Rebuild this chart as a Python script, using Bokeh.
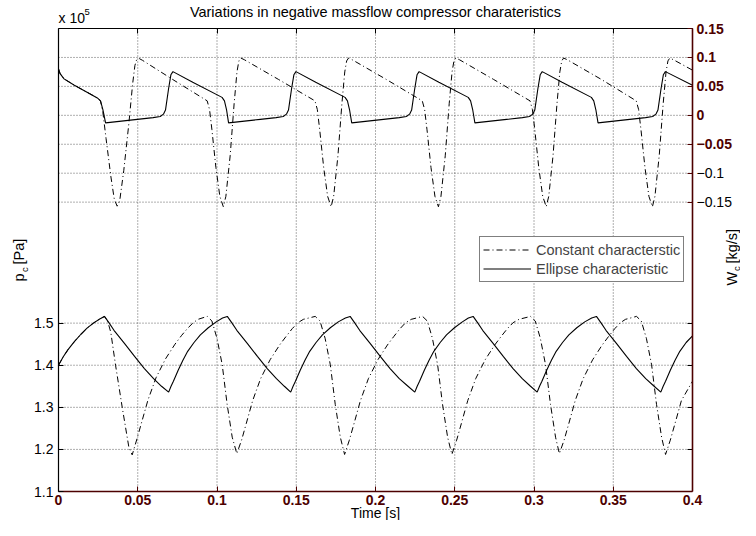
import math
from bokeh.plotting import figure
from bokeh.models import (Range1d, LinearAxis, FixedTicker, Label, Legend,
                          LegendItem, CustomJSTickFormatter)
from bokeh.embed import file_html
from bokeh.resources import INLINE

# ---------------- data ----------------
# compressor pressure, units of 1e5 Pa  -- ellipse characteristic (solid)
t_ell_p = [0.0, 0.003, 0.006, 0.010, 0.014, 0.018, 0.022, 0.026, 0.029,
           0.032, 0.035, 0.0416, 0.048, 0.0542, 0.060, 0.065, 0.0695,
           0.071, 0.0725, 0.0755, 0.0785, 0.0815, 0.0855, 0.0895, 0.0945, 0.0995, 0.1035, 0.1065,
           0.1095, 0.1125, 0.1191, 0.1255, 0.1317, 0.1375, 0.1425, 0.1465,
           0.148, 0.1495, 0.1525, 0.1555, 0.1585, 0.1625, 0.1665, 0.1715, 0.1765, 0.181, 0.184,
           0.187, 0.190, 0.1966, 0.203, 0.2092, 0.215, 0.2205, 0.2248,
           0.2263, 0.2278, 0.2308, 0.2338, 0.2368, 0.2408, 0.2448, 0.2498, 0.2548, 0.2586, 0.2616,
           0.2646, 0.2676, 0.2742, 0.2806, 0.2868, 0.2926, 0.2978, 0.302,
           0.3035, 0.305, 0.308, 0.311, 0.314, 0.318, 0.322, 0.327, 0.332, 0.3364, 0.3394,
           0.3424, 0.3454, 0.352, 0.3584, 0.3646, 0.3705, 0.3758, 0.380,
           0.3815, 0.383, 0.386, 0.389, 0.392, 0.396, 0.400]
p_ell = [1.400, 1.420, 1.437, 1.456, 1.473, 1.488, 1.500, 1.510, 1.516,
         1.500, 1.483, 1.452, 1.421, 1.392, 1.368, 1.350, 1.336,
         1.350, 1.362, 1.388, 1.412, 1.433, 1.454, 1.472, 1.489, 1.503, 1.512, 1.516,
         1.500, 1.483, 1.452, 1.421, 1.392, 1.368, 1.350, 1.336,
         1.350, 1.362, 1.388, 1.412, 1.433, 1.454, 1.472, 1.489, 1.503, 1.512, 1.516,
         1.500, 1.483, 1.452, 1.421, 1.392, 1.368, 1.350, 1.336,
         1.350, 1.362, 1.388, 1.412, 1.433, 1.454, 1.472, 1.489, 1.503, 1.512, 1.516,
         1.500, 1.483, 1.452, 1.421, 1.392, 1.368, 1.350, 1.336,
         1.350, 1.362, 1.388, 1.412, 1.433, 1.454, 1.472, 1.489, 1.503, 1.512, 1.516,
         1.500, 1.483, 1.452, 1.421, 1.392, 1.368, 1.350, 1.336,
         1.350, 1.362, 1.388, 1.412, 1.433, 1.454, 1.470]

# compressor pressure -- constant characteristic (dash-dot)
t_con_p = [0.0, 0.003, 0.006, 0.010, 0.014, 0.018, 0.022, 0.026, 0.029,
           0.031, 0.033, 0.036, 0.0402, 0.0444, 0.0465,
           0.0495, 0.0525, 0.0565, 0.0615, 0.0675, 0.0735, 0.0775, 0.0815, 0.0850, 0.0880, 0.0938,
           0.0968, 0.1000, 0.1033, 0.1064, 0.1096, 0.1125,
           0.1155, 0.1185, 0.1225, 0.1275, 0.1335, 0.1395, 0.1435, 0.1475, 0.1510, 0.1545, 0.1620,
           0.1650, 0.1682, 0.1715, 0.1746, 0.1778, 0.1805,
           0.1835, 0.1865, 0.1905, 0.1955, 0.2015, 0.2075, 0.2115, 0.2155, 0.2190, 0.2225, 0.2297,
           0.2327, 0.2359, 0.2392, 0.2423, 0.2455, 0.2482,
           0.2512, 0.2542, 0.2582, 0.2632, 0.2692, 0.2752, 0.2792, 0.2832, 0.2868, 0.2905, 0.2978,
           0.3008, 0.3040, 0.3073, 0.3104, 0.3136, 0.3160,
           0.3190, 0.3220, 0.3260, 0.3310, 0.3370, 0.3430, 0.3470, 0.3510, 0.3545, 0.3577, 0.3647,
           0.3677, 0.3709, 0.3742, 0.3773, 0.3805, 0.3830,
           0.3860, 0.3890, 0.3930, 0.4000]
p_con = [1.400, 1.420, 1.437, 1.456, 1.473, 1.488, 1.500, 1.510, 1.516,
         1.505, 1.478, 1.400, 1.300, 1.205, 1.187,
         1.225, 1.265, 1.318, 1.370, 1.415, 1.450, 1.470, 1.488, 1.501, 1.509, 1.516,
         1.505, 1.464, 1.401, 1.307, 1.229, 1.190,
         1.222, 1.262, 1.316, 1.368, 1.413, 1.448, 1.468, 1.487, 1.501, 1.509, 1.516,
         1.505, 1.464, 1.401, 1.307, 1.229, 1.188,
         1.222, 1.262, 1.316, 1.368, 1.413, 1.448, 1.468, 1.487, 1.501, 1.509, 1.516,
         1.505, 1.464, 1.401, 1.307, 1.229, 1.188,
         1.222, 1.262, 1.316, 1.368, 1.413, 1.448, 1.468, 1.487, 1.501, 1.509, 1.516,
         1.505, 1.464, 1.401, 1.307, 1.229, 1.190,
         1.222, 1.262, 1.316, 1.368, 1.413, 1.448, 1.468, 1.487, 1.501, 1.509, 1.516,
         1.505, 1.464, 1.401, 1.307, 1.229, 1.188,
         1.222, 1.262, 1.316, 1.362]

# compressor massflow, kg/s -- ellipse characteristic (solid)
t_ell_w = [0.0, 0.001, 0.0035, 0.010, 0.018, 0.0245, 0.0265, 0.0280,
           0.0297, 0.0397, 0.0497, 0.0597, 0.0642, 0.0662, 0.0675, 0.0694, 0.0709, 0.0722,
           0.0847, 0.1032, 0.1047, 0.1060,
           0.1073, 0.1173, 0.1273, 0.1373, 0.1418, 0.1438, 0.1451, 0.1470, 0.1485, 0.1498,
           0.1623, 0.1808, 0.1823, 0.1836,
           0.1850, 0.1950, 0.2050, 0.2150, 0.2195, 0.2215, 0.2228, 0.2247, 0.2262, 0.2275,
           0.2400, 0.2585, 0.2600, 0.2613,
           0.2627, 0.2727, 0.2827, 0.2927, 0.2972, 0.2992, 0.3005, 0.3024, 0.3039, 0.3052,
           0.3177, 0.3362, 0.3377, 0.3390,
           0.3404, 0.3504, 0.3604, 0.3704, 0.3749, 0.3769, 0.3782, 0.3801, 0.3816, 0.3829,
           0.4000]
w_ell = [0.080, 0.072, 0.063, 0.052, 0.040, 0.030, 0.025, 0.010,
         -0.013, -0.010, -0.007, -0.004, -0.002, 0.002, 0.009, 0.045, 0.070, 0.0755,
         0.057, 0.031, 0.025, 0.010,
         -0.013, -0.010, -0.007, -0.004, -0.002, 0.002, 0.009, 0.045, 0.070, 0.0755,
         0.057, 0.031, 0.025, 0.010,
         -0.013, -0.010, -0.007, -0.004, -0.002, 0.002, 0.009, 0.045, 0.070, 0.0755,
         0.057, 0.031, 0.025, 0.010,
         -0.013, -0.010, -0.007, -0.004, -0.002, 0.002, 0.009, 0.045, 0.070, 0.0755,
         0.057, 0.031, 0.025, 0.010,
         -0.013, -0.010, -0.007, -0.004, -0.002, 0.002, 0.009, 0.045, 0.070, 0.0755,
         0.052]

# compressor massflow -- constant characteristic (dash-dot)
t_con_w = [0.0, 0.001, 0.0035, 0.010, 0.018, 0.0245, 0.0265,
           0.0280, 0.0300, 0.0330, 0.0352, 0.0370, 0.0386, 0.0412, 0.0444, 0.0468, 0.0482,
           0.0494, 0.0510, 0.0530, 0.0720,
           0.0938, 0.0953, 0.0968, 0.0993, 0.1018, 0.1040, 0.1056, 0.1083, 0.1108, 0.1126,
           0.1138, 0.1150, 0.1173, 0.1388,
           0.1618, 0.1633, 0.1648, 0.1673, 0.1698, 0.1720, 0.1736, 0.1763, 0.1788, 0.1806,
           0.1818, 0.1830, 0.1853, 0.2068,
           0.2295, 0.2310, 0.2325, 0.2350, 0.2375, 0.2397, 0.2413, 0.2440, 0.2465, 0.2483,
           0.2495, 0.2507, 0.2530, 0.2745,
           0.2975, 0.2990, 0.3005, 0.3030, 0.3055, 0.3077, 0.3093, 0.3120, 0.3145, 0.3163,
           0.3175, 0.3187, 0.3210, 0.3425,
           0.3645, 0.3660, 0.3675, 0.3700, 0.3725, 0.3747, 0.3763, 0.3790, 0.3815, 0.3833,
           0.3845, 0.3857, 0.3880, 0.4000]
w_con = [0.080, 0.072, 0.063, 0.052, 0.040, 0.030, 0.025,
         0.005, -0.040, -0.105, -0.145, -0.157, -0.148, -0.095, -0.014, 0.055, 0.086,
         0.097, 0.098, 0.095, 0.062,
         0.025, 0.010, -0.025, -0.090, -0.140, -0.158, -0.140, -0.070, 0.020, 0.075,
         0.094, 0.099, 0.096, 0.062,
         0.025, 0.010, -0.025, -0.090, -0.140, -0.158, -0.140, -0.070, 0.020, 0.075,
         0.094, 0.099, 0.096, 0.062,
         0.025, 0.010, -0.025, -0.090, -0.140, -0.158, -0.140, -0.070, 0.020, 0.075,
         0.094, 0.099, 0.096, 0.062,
         0.025, 0.010, -0.025, -0.090, -0.140, -0.158, -0.140, -0.070, 0.020, 0.075,
         0.094, 0.099, 0.096, 0.062,
         0.025, 0.010, -0.025, -0.090, -0.140, -0.158, -0.140, -0.070, 0.020, 0.075,
         0.094, 0.099, 0.096, 0.078]

x_ticks = [0.0, 0.05, 0.1, 0.15, 0.2, 0.25, 0.3, 0.35, 0.4]
p_ticks = [1.1, 1.2, 1.3, 1.4, 1.5]
w_ticks_red = [-0.05, 0.0, 0.05, 0.1, 0.15]
w_ticks_black = [-0.15, -0.1]
x_grid = [0.05, 0.1, 0.15, 0.2, 0.25, 0.3, 0.35]
p_grid = [1.2, 1.3, 1.4, 1.5]
w_grid = [-0.15, -0.1, -0.05, 0.0, 0.05, 0.1]

X_LO, X_HI = 0.0, 0.4          # time axis limits
P_LO, P_HI = 1.1, 2.2          # left axis limits (x 1e5 Pa)
W_LO, W_HI = -0.65, 0.15       # right axis limits (kg/s)

title_text = "Variations in negative massflow compressor charateristics"
legend_labels = ["Constant characterstic", "Ellipse characteristic"]

# ---------------- layout (pixels) ----------------
CW, CH = 740, 520
FL, FR, FT, FB = 58, 692, 28, 491   # plot box edges on the canvas

DARKRED = "#4d0000"
FONT = "Liberation Sans"
FS = "14px"       # tick labels
FT_TXT = "14.5px"  # titles, legend

ux = (X_HI - X_LO) / (FR - FL)
up = (P_HI - P_LO) / (FB - FT)
uw = (W_HI - W_LO) / (FB - FT)

p = figure(width=CW, height=CH, output_backend="svg", toolbar_location=None,
           title=None, tools="", x_axis_location=None, y_axis_location=None,
           x_range=Range1d(X_LO - FL * ux, X_HI + (CW - FR) * ux),
           y_range=Range1d(P_LO - (CH - FB) * up, P_HI + FT * up),
           min_border=0, min_border_left=0, min_border_right=0,
           min_border_top=0, min_border_bottom=0)
p.extra_y_ranges = {"w": Range1d(W_LO - (CH - FB) * uw, W_HI + FT * uw)}
p.background_fill_color = "white"
p.border_fill_color = "white"
p.outline_line_color = None
p.grid.visible = False

fmt = CustomJSTickFormatter(code="return String(tick).replace('-', '\u2212');")
nofmt = CustomJSTickFormatter(code="return '';")

# ---- dotted grid lines, drawn at the tick values ----
GRID = dict(line_color="#444444", line_dash="1 2", line_width=1, line_alpha=0.85)
p.segment(x0=x_grid, y0=[P_LO] * len(x_grid), x1=x_grid, y1=[P_HI] * len(x_grid), **GRID)
p.segment(x0=[X_LO] * len(p_grid), y0=p_grid, x1=[X_HI] * len(p_grid), y1=p_grid, **GRID)
p.segment(x0=[X_LO] * len(w_grid), y0=w_grid, x1=[X_HI] * len(w_grid), y1=w_grid,
          y_range_name="w", **GRID)

# ---- axes ----
xa = LinearAxis(fixed_location=P_LO, bounds=(X_LO, X_HI), ticker=FixedTicker(ticks=x_ticks),
                formatter=fmt, axis_line_color=DARKRED, axis_line_width=1.6,
                major_tick_line_color=DARKRED, major_tick_in=5, major_tick_out=0,
                minor_tick_line_color=None, major_label_text_color=DARKRED,
                major_label_text_font=FONT, major_label_text_font_style="bold",
                major_label_text_font_size=FS, major_label_standoff=3)
p.add_layout(xa, "below")

ta = LinearAxis(fixed_location=P_HI, bounds=(X_LO, X_HI), ticker=FixedTicker(ticks=x_ticks),
                formatter=nofmt, axis_line_color="black", axis_line_width=1,
                major_tick_line_color="black", major_tick_in=5, major_tick_out=0,
                minor_tick_line_color=None, major_label_text_font_size="1px")
p.add_layout(ta, "above")

ya = LinearAxis(fixed_location=X_LO, bounds=(P_LO, P_HI), ticker=FixedTicker(ticks=p_ticks),
                formatter=fmt, axis_line_color="black", axis_line_width=1.2,
                major_tick_line_color="black", major_tick_in=5, major_tick_out=0,
                minor_tick_line_color=None, major_label_text_color="black",
                major_label_text_font=FONT, major_label_text_font_size=FS,
                major_label_standoff=5)
p.add_layout(ya, "left")

# left-axis ticks repeated on the right edge of the box
ya2 = LinearAxis(fixed_location=X_HI, bounds=(P_LO, P_HI), ticker=FixedTicker(ticks=p_grid),
                 formatter=nofmt, axis_line_color=None, major_tick_line_color="black",
                 major_tick_in=5, major_tick_out=0, minor_tick_line_color=None,
                 major_label_text_font_size="1px")
p.add_layout(ya2, "right")

ra = LinearAxis(y_range_name="w", fixed_location=X_HI, bounds=(W_LO, W_HI),
                ticker=FixedTicker(ticks=w_ticks_red), formatter=fmt,
                axis_line_color=DARKRED, axis_line_width=1.6,
                major_tick_line_color=DARKRED, major_tick_in=5, major_tick_out=0,
                minor_tick_line_color=None, major_label_text_color=DARKRED,
                major_label_text_font=FONT, major_label_text_font_style="bold",
                major_label_text_font_size=FS, major_label_standoff=4)
p.add_layout(ra, "right")

rb = LinearAxis(y_range_name="w", fixed_location=X_HI, bounds=(W_LO, W_HI),
                ticker=FixedTicker(ticks=w_ticks_black), formatter=fmt,
                axis_line_color=None, major_tick_line_color=DARKRED,
                major_tick_in=5, major_tick_out=0, minor_tick_line_color=None,
                major_label_text_color="black", major_label_text_font=FONT,
                major_label_text_font_size=FS, major_label_standoff=4)
p.add_layout(rb, "right")

# ---- data lines ----
DASHDOT = "6 3 1 3"
r_con_w = p.line(t_con_w, w_con, y_range_name="w", line_color="black",
                 line_width=1, line_dash=DASHDOT)
r_ell_w = p.line(t_ell_w, w_ell, y_range_name="w", line_color="black", line_width=1.1)
r_con_p = p.line(t_con_p, p_con, line_color="black", line_width=1, line_dash=DASHDOT)
r_ell_p = p.line(t_ell_p, p_ell, line_color="black", line_width=1.1)

legend = Legend(items=[LegendItem(label=legend_labels[0], renderers=[r_con_w]),
                       LegendItem(label=legend_labels[1], renderers=[r_ell_w])],
                location=(479, CH - 282), padding=3, spacing=0, margin=0,
                label_height=19, glyph_height=19, glyph_width=48, label_standoff=5,
                label_text_font=FONT, label_text_font_size=FT_TXT,
                border_line_color="black", border_line_width=1,
                background_fill_color="white", background_fill_alpha=1)
p.add_layout(legend)


def lab(text, x, y, size=FT_TXT, angle=0.0, align="left", baseline="middle",
        x_units="screen"):
    return Label(text=text, x=x, y=y, x_units=x_units, y_units="screen",
                 angle=angle, text_align=align, text_baseline=baseline,
                 text_font=FONT, text_font_size=size, text_color="black")


UP = math.pi / 2
p.add_layout(lab(title_text, 0.2, CH - 11, align="center", x_units="data"))
p.add_layout(lab("x 10", FL, CH - 17.5, size="14px"))
p.add_layout(lab("5", FL + 26, CH - 11, size="9.5px"))
p.add_layout(lab("Time [s]", 0.2, CH - 512, size="14px", align="center", x_units="data"))
# left axis label p_c [Pa]  (rotated, reading upwards)
p.add_layout(lab("p", 18, CH - 281, angle=UP))
p.add_layout(lab("c", 23.5, CH - 271.5, size="9.5px", angle=UP))
p.add_layout(lab("[Pa]", 18, CH - 264, angle=UP))
# right axis label W_c [kg/s]
p.add_layout(lab("W", 731, CH - 285, angle=UP))
p.add_layout(lab("c", 735.5, CH - 270.5, size="9.5px", angle=UP))
p.add_layout(lab("[kg/s]", 731, CH - 263, angle=UP))

open("out.html", "w").write(file_html(p, INLINE))
